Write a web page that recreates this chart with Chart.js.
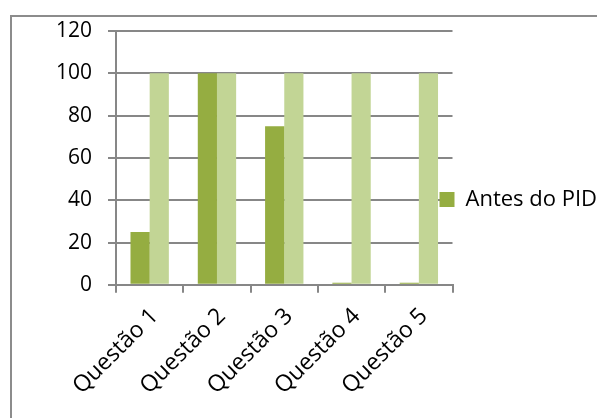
<!DOCTYPE html>
<html>
<head>
<meta charset="utf-8">
<script src="https://cdn.jsdelivr.net/npm/chart.js@4/dist/chart.umd.min.js"></script>
<style>
  html, body { margin: 0; padding: 0; background: #fff; overflow: hidden; }
  #frame { position: absolute; left: 10px; top: 15px; width: 700px; height: 500px;
           border-left: 2px solid #8c8c8c; border-top: 2px solid #8c8c8c; }
  #wrap { position: absolute; left: 0; top: 0; width: 598px; height: 418px; }
</style>
</head>
<body>
<div id="frame"></div>
<div id="wrap"><canvas id="chart" width="598" height="418"></canvas></div>
<script>
// Questions and the share of correct answers before / after the PID
const categories = ['Questão 1', 'Questão 2', 'Questão 3', 'Questão 4', 'Questão 5'];
const antesDoPID = [25, 100, 75, 1, 1];
const depoisDoPID = [100, 100, 100, 100, 100];
const yTicks = [0, 20, 40, 60, 80, 100, 120];

const FONT = '"Open Sans", "Liberation Sans", sans-serif';
const GRID = '#878787';

// Let the legend start just inside the plot's right edge and run to the canvas edge
const legendNudge = {
  id: 'legendNudge',
  afterLayout(chart) {
    const lg = chart.legend;
    if (!lg) return;
    lg.left = chart.chartArea.right - 21;
    lg.right = chart.width;
    lg.top -= 21; lg.bottom -= 21;
  }
};

new Chart(document.getElementById('chart'), {
  type: 'bar',
  data: {
    labels: categories,
    datasets: [
      { label: 'Antes do PID', data: antesDoPID, backgroundColor: '#95ad41',
        barPercentage: 1.0, categoryPercentage: 0.57 },
      { label: 'Depois do PID', data: depoisDoPID, backgroundColor: '#c2d595',
        barPercentage: 1.0, categoryPercentage: 0.57 }
    ]
  },
  plugins: [legendNudge],
  options: {
    responsive: false,
    animation: false,
    layout: { padding: { top: 31, left: 40, right: 8, bottom: 8 } },
    plugins: {
      tooltip: { enabled: false },
      legend: {
        position: 'right',
        align: 'center',
        labels: {
          filter: (item) => item.datasetIndex === 0,
          boxWidth: 15, boxHeight: 15, padding: 8,
          color: '#000', font: { family: FONT, size: 22 }
        }
      }
    },
    scales: {
      x: {
        grid: { drawOnChartArea: false, drawTicks: true, tickLength: 8, color: GRID, lineWidth: 2 },
        border: { color: GRID, width: 2 },
        ticks: { color: '#000', font: { family: FONT, size: 23 }, maxRotation: 45, minRotation: 45,
                 padding: 10, labelOffset: 5 }
      },
      y: {
        min: 0, max: 120,
        afterBuildTicks: (scale) => { scale.ticks = yTicks.map(v => ({ value: v })); },
        grid: { color: GRID, lineWidth: 2, tickLength: 8 },
        border: { color: GRID, width: 2 },
        ticks: { color: '#000', font: { family: FONT, size: 21 }, padding: 16 }
      }
    }
  }
});
</script>
</body>
</html>
